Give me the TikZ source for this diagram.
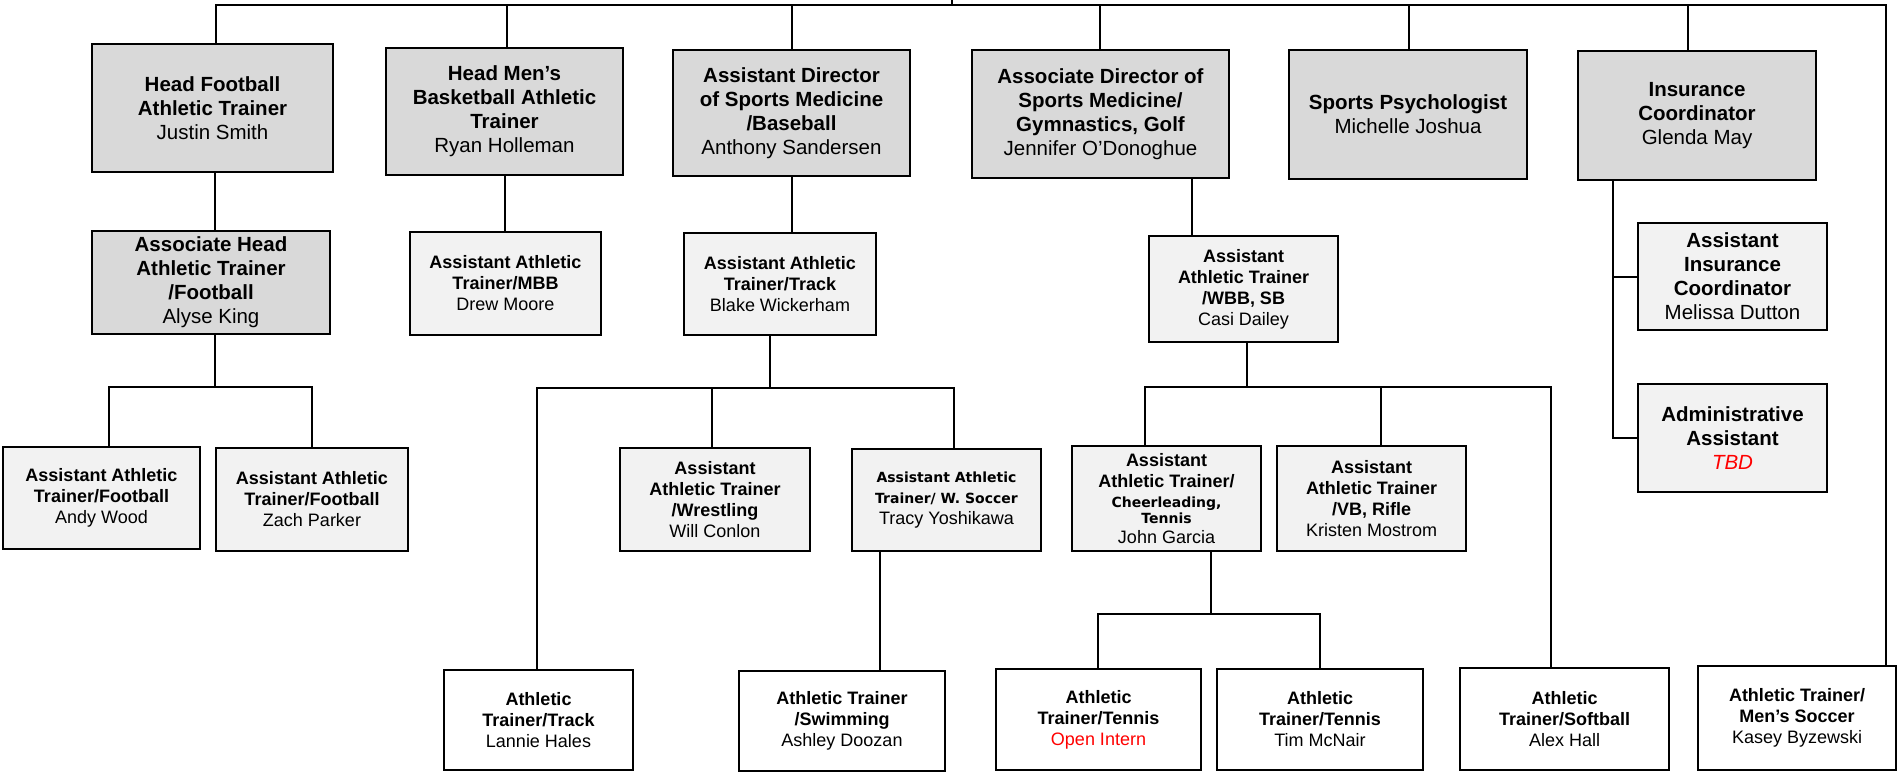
\documentclass[tikz,border=0pt]{standalone}
\usepackage{fontspec}
\setmainfont{Liberation Sans}
\newfontfamily\dvs{DejaVu Sans}
\definecolor{boxdark}{HTML}{D9D9D9}
\definecolor{boxlight}{HTML}{F2F2F2}
\definecolor{vacant}{HTML}{FF0000}

% #1 name, #2 style, #3-#6 corners (x1,y1,x2,y2), #7 text
\newcommand\orgbox[7]{%
  \node[#2, minimum width={(#5-#3)*0.5pt}, minimum height={(#6-#4)*0.5pt}]
    (#1) at ({(#3+#5)/2},{(#4+#6)/2}) {#7};}

\tikzset{
  box/.style={draw, line width=1.3pt, inner sep=0pt, align=center},
  bigtext/.style={font=\fontsize{10.25}{12}\selectfont},
  smalltext/.style={font=\fontsize{9}{10.5}\selectfont},
  headbox/.style={box, fill=boxdark, bigtext},
  midbox/.style={box, fill=boxlight, smalltext},
  midbigbox/.style={box, fill=boxlight, bigtext},
  basebox/.style={box, fill=white, smalltext},
  link/.style={line width=1pt},
}
\newcommand\narrow[1]{{\dvs\bfseries\fontsize{7}{8.5}\selectfont #1}}

\begin{document}
\begin{tikzpicture}[x=0.5pt, y=-0.5pt]
\useasboundingbox (0,0) rectangle (1899,772);

% ---------- top row ----------
\orgbox{hf}{headbox}{92}{44}{333}{172}{\textbf{Head Football}\\\textbf{Athletic Trainer}\\Justin Smith}
\orgbox{hmb}{headbox}{386}{48}{623}{175}{\textbf{Head Men’s}\\\textbf{Basketball Athletic}\\\textbf{Trainer}\\Ryan Holleman}
\orgbox{adsm}{headbox}{673}{50}{910}{176}{\textbf{Assistant Director}\\\textbf{of Sports Medicine}\\\textbf{/Baseball}\\Anthony Sandersen}
\orgbox{assocdir}{headbox}{972}{50}{1229}{178}{\textbf{Associate Director of}\\\textbf{Sports Medicine/}\\\textbf{Gymnastics, Golf}\\Jennifer O’Donoghue}
\orgbox{sp}{headbox}{1289}{50}{1527}{179}{\textbf{Sports Psychologist}\\Michelle Joshua}
\orgbox{ic}{headbox}{1578}{51}{1816}{180}{\textbf{Insurance}\\\textbf{Coordinator}\\Glenda May}

% ---------- second row ----------
\orgbox{ahat}{headbox}{92}{231}{330}{334}{\textbf{Associate Head}\\\textbf{Athletic Trainer}\\\textbf{/Football}\\Alyse King}
\orgbox{mbb}{midbox}{410}{232}{601}{335}{\textbf{Assistant Athletic}\\\textbf{Trainer/MBB}\\Drew Moore}
\orgbox{track}{midbox}{684}{233}{876}{335}{\textbf{Assistant Athletic}\\\textbf{Trainer/Track}\\Blake Wickerham}
\orgbox{casi}{midbox}{1149}{236}{1338}{342}{\textbf{Assistant}\\\textbf{Athletic Trainer}\\\textbf{/WBB, SB}\\Casi Dailey}
\orgbox{aic}{midbigbox}{1638}{223}{1827}{330}{\textbf{Assistant}\\\textbf{Insurance}\\\textbf{Coordinator}\\Melissa Dutton}
\orgbox{admin}{midbigbox}{1638}{384}{1827}{492}{\textbf{Administrative}\\\textbf{Assistant}\\\textcolor{vacant}{\itshape TBD}}

% ---------- third row ----------
\orgbox{andy}{midbox}{3}{447}{200}{549}{\textbf{Assistant Athletic}\\\textbf{Trainer/Football}\\Andy Wood}
\orgbox{zach}{midbox}{216}{448}{408}{551}{\textbf{Assistant Athletic}\\\textbf{Trainer/Football}\\Zach Parker}
\orgbox{wrestling}{midbox}{620}{448}{810}{551}{\textbf{Assistant}\\\textbf{Athletic Trainer}\\\textbf{/Wrestling}\\Will Conlon}
\orgbox{wsoccer}{midbox}{852}{449}{1041}{551}{\narrow{Assistant Athletic}\\\narrow{Trainer/ W. Soccer}\\Tracy Yoshikawa}
\orgbox{jg}{midbox}{1072}{446}{1261}{551}{\textbf{Assistant}\\\textbf{Athletic Trainer/}\\[-0.5pt]\narrow{Cheerleading,}\\[-2.5pt]\narrow{Tennis}\\[-0.5pt]John Garcia}
\orgbox{kristen}{midbox}{1277}{446}{1466}{551}{\textbf{Assistant}\\\textbf{Athletic Trainer}\\\textbf{/VB, Rifle}\\Kristen Mostrom}

% ---------- bottom row ----------
\orgbox{lannie}{basebox}{444}{670}{633}{770}{\textbf{Athletic}\\\textbf{Trainer/Track}\\Lannie Hales}
\orgbox{swim}{basebox}{739}{671}{945}{771}{\textbf{Athletic Trainer}\\\textbf{/Swimming}\\Ashley Doozan}
\orgbox{openintern}{basebox}{996}{669}{1201}{770}{\textbf{Athletic}\\\textbf{Trainer/Tennis}\\\textcolor{vacant}{Open Intern}}
\orgbox{tim}{basebox}{1217}{669}{1423}{770}{\textbf{Athletic}\\\textbf{Trainer/Tennis}\\Tim McNair}
\orgbox{softball}{basebox}{1460}{668}{1669}{770}{\textbf{Athletic}\\\textbf{Trainer/Softball}\\Alex Hall}
\orgbox{mens}{basebox}{1698}{666}{1896}{770}{\textbf{Athletic Trainer/}\\\textbf{Men’s Soccer}\\Kasey Byzewski}

% ---------- connectors ----------
% top bus
\coordinate (root) at (952,-2);
\coordinate (tip) at (952,5);
\coordinate (t1) at (216,5);
\coordinate (t2) at (507,5);
\coordinate (t3) at (792,5);
\coordinate (t4) at (1100,5);
\coordinate (t5) at (1409,5);
\coordinate (t6) at (1688,5);
\coordinate (tR) at (1886,5);
\draw[link] (root) -- (tip);
\draw[link] (t1 |- hf.north) -- (t1) -- (tR) -- (tR |- mens.north);
\foreach \t/\n in {t2/hmb, t3/adsm, t4/assocdir, t5/sp, t6/ic}
  \draw[link] (\t) -- (\t |- \n.north);

% single drops
\coordinate (xHF) at (215,0);
\coordinate (xHM) at (505,0);
\coordinate (xAS) at (792,0);
\coordinate (xAD) at (1192,0);
\coordinate (xWS) at (880,0);
\draw[link] (xHF |- hf.south) -- (xHF |- ahat.north);
\draw[link] (xHM |- hmb.south) -- (xHM |- mbb.north);
\draw[link] (xAS |- adsm.south) -- (xAS |- track.north);
\draw[link] (xAD |- assocdir.south) -- (xAD |- casi.north);
\draw[link] (xWS |- wsoccer.south) -- (xWS |- swim.north);

% associate head trainer branch
\coordinate (jAH) at (215,387);
\coordinate (jAHl) at (109,387);
\coordinate (jAHr) at (312,387);
\draw[link] (jAH |- ahat.south) -- (jAH);
\draw[link] (jAHl |- andy.north) -- (jAHl) -- (jAHr) -- (jAHr |- zach.north);

% track branch
\coordinate (jTR) at (770,388);
\coordinate (jTRl) at (537,388);
\coordinate (jTRm) at (712,388);
\coordinate (jTRr) at (954,388);
\draw[link] (jTR |- track.south) -- (jTR);
\draw[link] (jTRl |- lannie.north) -- (jTRl) -- (jTRr) -- (jTRr |- wsoccer.north);
\draw[link] (jTRm) -- (jTRm |- wrestling.north);

% WBB/SB branch
\coordinate (jCA) at (1247,387);
\coordinate (jCAl) at (1145,387);
\coordinate (jCAm) at (1381,387);
\coordinate (jCAr) at (1551,387);
\draw[link] (jCA |- casi.south) -- (jCA);
\draw[link] (jCAl |- jg.north) -- (jCAl) -- (jCAr) -- (jCAr |- softball.north);
\draw[link] (jCAm) -- (jCAm |- kristen.north);

% cheerleading/tennis branch
\coordinate (jJG) at (1211,614);
\coordinate (jJGl) at (1098,614);
\coordinate (jJGr) at (1320,614);
\draw[link] (jJG |- jg.south) -- (jJG);
\draw[link] (jJGl |- openintern.north) -- (jJGl) -- (jJGr) -- (jJGr |- tim.north);

% insurance branch
\coordinate (xIC) at (1613,0);
\draw[link] (xIC |- ic.south) |- (admin.west);
\draw[link] (xIC |- aic.west) -- (aic.west);
\end{tikzpicture}
\end{document}
